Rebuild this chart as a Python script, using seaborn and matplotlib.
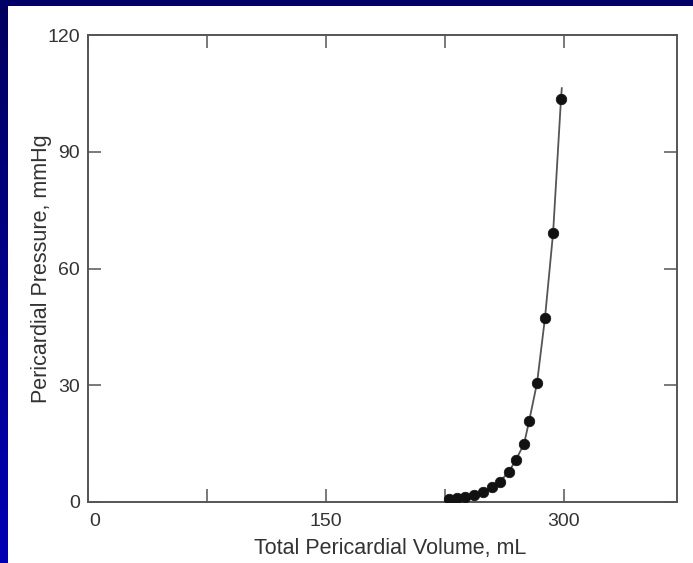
import numpy as np
import pandas as pd
import matplotlib
matplotlib.use("Agg")
import matplotlib.pyplot as plt
import matplotlib.transforms as mtransforms
import seaborn as sns

# Data
volume_ml = [227.5, 232.4, 237.6, 243.3, 249.0, 254.6, 259.5, 265.3, 269.6, 274.8,
             278.0, 283.0, 288.0, 293.1, 298.1]
pressure_mmhg = [0.7, 0.95, 1.4, 1.9, 2.6, 3.9, 5.2, 7.8, 10.8, 14.9,
                 20.8, 30.6, 47.3, 69.1, 103.6]
# fitted curve end points
curve_start = (225.0, 0.3)
curve_end = (298.6, 106.4)

x_major = [0, 150, 300]
x_minor = [75, 225]
y_ticks = [0, 30, 60, 90, 120]

sns.set_theme(style="white")
plt.rcParams['font.family'] = ['Liberation Sans', 'DejaVu Sans']

fig = plt.figure(figsize=(6.93, 5.63), dpi=100, facecolor="white")

# blue slide frame
grad = fig.add_axes([0, 0, 7 / 693, 1])
grad.imshow(np.linspace(0, 1, 256).reshape(-1, 1), aspect="auto",
            cmap=matplotlib.colors.LinearSegmentedColormap.from_list("b", ["#00005e", "#0000b4"]),
            extent=[0, 1, 0, 1], origin="upper")
grad.axis("off")
top = fig.add_axes([0, 1 - 6 / 563, 1, 6 / 563])
top.set_facecolor("#000066")
top.set_xticks([]); top.set_yticks([])
for s in top.spines.values():
    s.set_visible(False)

ax = fig.add_axes([88 / 693, 61 / 563, (677 - 88) / 693, (502 - 35) / 563])
ax.set_facecolor("white")

curve = pd.DataFrame({
    "v": [curve_start[0]] + volume_ml + [curve_end[0]],
    "p": [curve_start[1]] + pressure_mmhg + [curve_end[1]],
})
sns.lineplot(data=curve, x="v", y="p", ax=ax, color="#555555", linewidth=1.3,
             sort=False, estimator=None)
pts = pd.DataFrame({"v": volume_ml, "p": pressure_mmhg})
sns.scatterplot(data=pts, x="v", y="p", ax=ax, color="#111111", s=58,
                edgecolor="#111111", linewidth=0.5, zorder=3)

ax.set_xlim(0, 371.2)
ax.set_ylim(0, 120)
ax.set_xticks(x_major)
ax.set_xticks(x_minor, minor=True)
ax.set_yticks(y_ticks)
ax.set_xticklabels([str(v) for v in x_major])
ax.set_yticklabels([str(v) for v in y_ticks])

ax.tick_params(axis="both", which="both", direction="in", length=9.5, width=1.1,
               color="#555555", labelcolor="#333333", labelsize=14,
               top=True, right=True, bottom=True, left=True)
ax.tick_params(axis="x", which="both", pad=8)
ax.tick_params(axis="y", pad=6)

# the "0" on the x axis sits a little right of its tick in the original
lbl0 = ax.get_xticklabels()[0]
lbl0.set_transform(lbl0.get_transform() +
                   mtransforms.ScaledTranslation(5 / 72, 0, fig.dpi_scale_trans))

for s in ax.spines.values():
    s.set_visible(True)
    s.set_color("#555555")
    s.set_linewidth(1.4)

ax.set_xlabel("Total Pericardial Volume, mL", fontsize=15.5, color="#333333")
ax.set_ylabel("Pericardial Pressure, mmHg", fontsize=15.5, color="#333333")
ax.xaxis.set_label_coords((390 - 88) / 589, -(538 - 502) / 467)
ax.yaxis.set_label_coords(-(88 - 52) / 589, 0.5)

fig.savefig("out.png", dpi=100, facecolor="white")
